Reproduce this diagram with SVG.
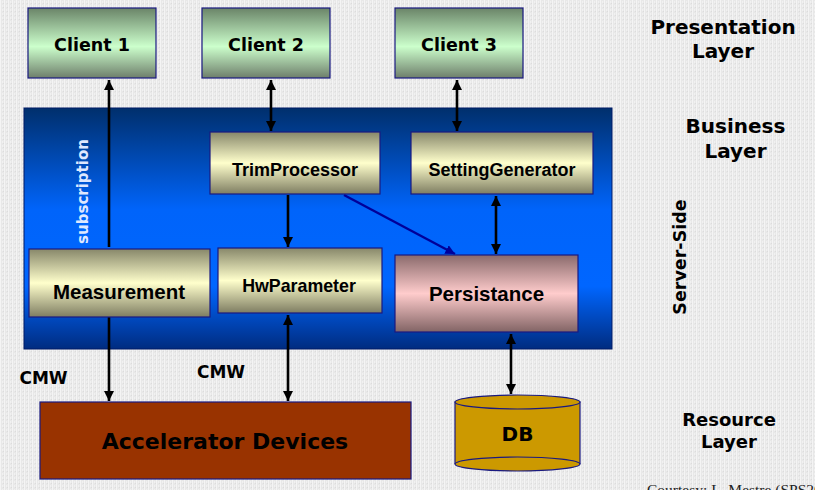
<svg xmlns="http://www.w3.org/2000/svg" width="815" height="490" viewBox="0 0 815 490">
  <defs>
    <pattern id="paper" width="4" height="4" patternUnits="userSpaceOnUse">
      <rect width="4" height="4" fill="#e8e8e8"/>
      <rect x="0" y="0" width="1" height="4" fill="#f4f4f4"/>
      <rect x="2" y="1" width="1" height="2" fill="#f1f1f1"/>
      <rect x="3" y="3" width="1" height="1" fill="#dcdcdc"/>
    </pattern>
    <linearGradient id="gGreen" x1="0" y1="0" x2="0" y2="1">
      <stop offset="0" stop-color="#6a8468"/>
      <stop offset="0.55" stop-color="#ccffcc"/>
      <stop offset="1" stop-color="#6e7e6b"/>
    </linearGradient>
    <linearGradient id="gBeige" x1="0" y1="0" x2="0" y2="1">
      <stop offset="0" stop-color="#87876a"/>
      <stop offset="0.5" stop-color="#ffffcc"/>
      <stop offset="1" stop-color="#7e7d62"/>
    </linearGradient>
    <linearGradient id="gPink" x1="0" y1="0" x2="0" y2="1">
      <stop offset="0" stop-color="#8a6a6c"/>
      <stop offset="0.5" stop-color="#ffcccc"/>
      <stop offset="1" stop-color="#826465"/>
    </linearGradient>
    <linearGradient id="gBlue" x1="0" y1="0" x2="0" y2="1">
      <stop offset="0" stop-color="#002f6c"/>
      <stop offset="0.42" stop-color="#0064fa"/>
      <stop offset="0.74" stop-color="#0066ff"/>
      <stop offset="1" stop-color="#002c80"/>
    </linearGradient>
    <marker id="ah" viewBox="0 0 10 10" refX="10" refY="5" markerWidth="4" markerHeight="4" orient="auto-start-reverse" markerUnits="strokeWidth">
      <path d="M0,0 L10,5 L0,10 Z" fill="#000"/>
    </marker>
    <marker id="ahBlue" viewBox="0 0 10 10" refX="10" refY="5" markerWidth="4" markerHeight="4" orient="auto" markerUnits="strokeWidth">
      <path d="M0,0 L10,5 L0,10 Z" fill="#000099"/>
    </marker>
  </defs>
  <style>
    .box { stroke: #1a1a80; stroke-width: 1.2; }
    .verd { font-family: "DejaVu Sans", Verdana, sans-serif; font-weight: bold; fill: #000; text-anchor: middle; }
    .ari { font-family: "Liberation Sans", Arial, sans-serif; font-weight: bold; fill: #000; text-anchor: middle; }
    .conn { stroke: #000; stroke-width: 2.6; fill: none; }
    .conn2 { stroke: #000; stroke-width: 2.6; fill: none; marker-end: url(#ah); marker-start: url(#ah); }
    .conn1 { stroke: #000; stroke-width: 2.6; fill: none; marker-end: url(#ah); }
  </style>

  <!-- page background -->
  <rect x="0" y="0" width="815" height="490" fill="url(#paper)"/>

  <!-- server-side business container -->
  <g id="business-panel">
    <rect x="24" y="108" width="588" height="241" fill="url(#gBlue)" stroke="#001a66" stroke-width="1"/>
    <text x="88" y="191.5" transform="rotate(-90 88 191.5)" font-family="DejaVu Sans, Verdana, sans-serif" font-weight="bold" font-size="15" fill="#dfe8ff" text-anchor="middle">subscription</text>
  </g>

  <!-- connectors -->
  <g id="connectors">
    <line class="conn" x1="109" y1="247" x2="109" y2="80" marker-end="url(#ah)"/>
    <line class="conn1" x1="109" y1="317" x2="109" y2="401"/>
    <line class="conn2" x1="271" y1="80" x2="271" y2="131"/>
    <line class="conn2" x1="457" y1="80" x2="457" y2="131"/>
    <line class="conn1" x1="288" y1="195" x2="288" y2="247"/>
    <line x1="344" y1="195" x2="455" y2="254" stroke="#000099" stroke-width="2.4" marker-end="url(#ahBlue)"/>
    <line class="conn2" x1="496" y1="196" x2="496" y2="254"/>
    <line class="conn2" x1="288" y1="315" x2="288" y2="401"/>
    <line class="conn2" x1="511" y1="334" x2="511" y2="394"/>
  </g>

  <!-- presentation layer -->
  <g id="client1">
    <rect class="box" x="28" y="8" width="128" height="70" fill="url(#gGreen)"/>
    <text class="verd" x="92" y="51" font-size="17.5">Client 1</text>
  </g>
  <g id="client2">
    <rect class="box" x="202" y="8" width="128" height="70" fill="url(#gGreen)"/>
    <text class="verd" x="266" y="51" font-size="17.5">Client 2</text>
  </g>
  <g id="client3">
    <rect class="box" x="395" y="8" width="128" height="70" fill="url(#gGreen)"/>
    <text class="verd" x="459" y="51" font-size="17.5">Client 3</text>
  </g>

  <!-- business layer components -->
  <g id="trim-processor">
    <rect class="box" x="210" y="132" width="170" height="62" fill="url(#gBeige)"/>
    <text class="ari" x="295" y="176" font-size="18">TrimProcessor</text>
  </g>
  <g id="setting-generator">
    <rect class="box" x="411" y="132" width="182" height="62" fill="url(#gBeige)"/>
    <text class="ari" x="502" y="176" font-size="18">SettingGenerator</text>
  </g>
  <g id="measurement">
    <rect class="box" x="29" y="249" width="181" height="68" fill="url(#gBeige)"/>
    <text class="ari" x="119" y="299" font-size="20.5">Measurement</text>
  </g>
  <g id="hw-parameter">
    <rect class="box" x="218" y="248" width="164" height="65" fill="url(#gBeige)"/>
    <text class="ari" x="299" y="292" font-size="17.8">HwParameter</text>
  </g>
  <g id="persistance">
    <rect class="box" x="395" y="255" width="183" height="77" fill="url(#gPink)"/>
    <text class="ari" x="486.5" y="301" font-size="20.5">Persistance</text>
  </g>

  <!-- resource layer -->
  <g id="accelerator-devices">
    <rect class="box" x="40" y="402" width="371" height="77" fill="#993300"/>
    <text class="verd" x="225" y="449" font-size="22" fill="#110500">Accelerator Devices</text>
  </g>
  <g id="db">
    <path d="M455,402 L455,464 A62.5,7 0 0 0 580,464 L580,402 Z" fill="#cc9900" stroke="#1a1a80" stroke-width="1.2"/>
    <path d="M455,464 A62.5,7 0 0 1 580,464" fill="none" stroke="#1a1a80" stroke-width="1.2"/>
    <ellipse cx="517.5" cy="402" rx="62.5" ry="7" fill="#cc9900" stroke="#1a1a80" stroke-width="1.2"/>
    <text class="verd" x="517.5" y="441" font-size="20">DB</text>
  </g>

  <!-- protocol labels -->
  <g id="labels">
    <text class="verd" x="43.5" y="384" font-size="17">CMW</text>
    <text class="verd" x="221" y="378" font-size="17">CMW</text>
  </g>

  <!-- layer captions -->
  <g id="layer-captions">
    <text class="verd" x="723" y="34" font-size="20">Presentation</text>
    <text class="verd" x="723" y="58" font-size="20">Layer</text>
    <text class="verd" x="735.5" y="133" font-size="20">Business</text>
    <text class="verd" x="735.5" y="158" font-size="20">Layer</text>
    <text class="verd" x="686" y="257" font-size="17.5" transform="rotate(-90 686 257)">Server-Side</text>
    <text class="verd" x="729" y="426" font-size="18">Resource</text>
    <text class="verd" x="729" y="448" font-size="18">Layer</text>
  </g>

  <!-- credit line along the bottom edge -->
  <text x="647" y="495" font-family="Liberation Serif, 'Times New Roman', serif" font-size="15.5" fill="#222">Courtesy: L. Mestre (SPS20</text>
</svg>
